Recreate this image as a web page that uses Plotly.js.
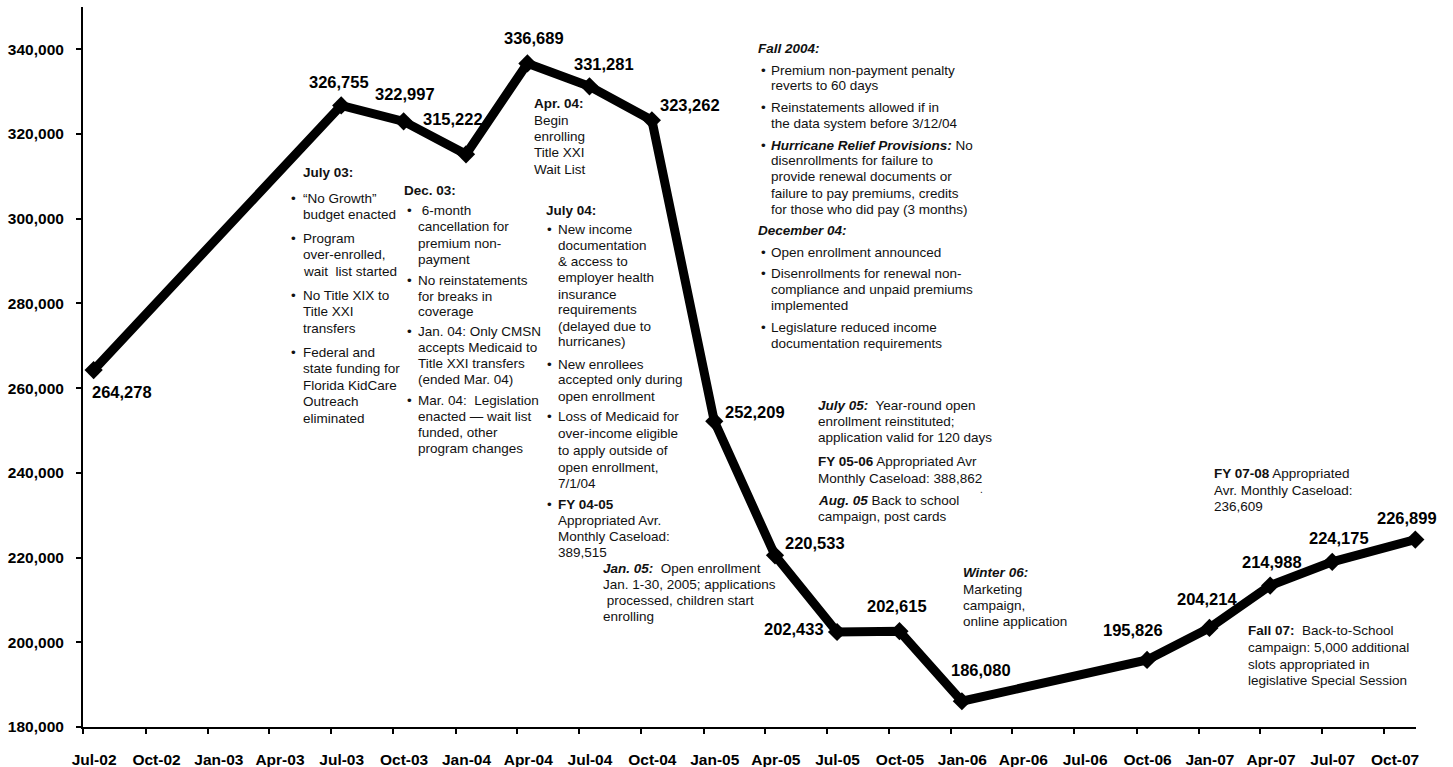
<!DOCTYPE html>
<html><head><meta charset="utf-8">
<script src="https://cdn.plot.ly/plotly-3.0.1.min.js"></script>
<style>html,body{margin:0;padding:0;background:#fff}</style>
</head><body><div id="chart" style="width:1453px;height:767px"></div>
<script>
// ---- data ----
const months = ['2002-07','2003-07','2003-10','2004-01','2004-04','2004-07','2004-10','2005-01','2005-04','2005-07','2005-10','2006-01','2006-10','2007-01','2007-04','2007-07','2007-11'];
const enrollment = [264278, 326755, 322997, 315222, 336689, 331281, 323262, 252209, 220533, 202433, 202615, 186080, 195826, 203400, 213400, 219000, 224250];
const valueLabels = ['264,278','326,755','322,997','315,222','336,689','331,281','323,262','252,209','220,533','202,433','202,615','186,080','195,826','204,214','214,988','224,175','226,899'];
const quarterTicks = ['2002-07-01','2002-10-01','2003-01-01','2003-04-01','2003-07-01','2003-10-01','2004-01-01','2004-04-01','2004-07-01','2004-10-01','2005-01-01','2005-04-01','2005-07-01','2005-10-01','2006-01-01','2006-04-01','2006-07-01','2006-10-01','2007-01-01','2007-04-01','2007-07-01','2007-10-01'];
const quarterLabels = ['Jul-02','Oct-02','Jan-03','Apr-03','Jul-03','Oct-03','Jan-04','Apr-04','Jul-04','Oct-04','Jan-05','Apr-05','Jul-05','Oct-05','Jan-06','Apr-06','Jul-06','Oct-06','Jan-07','Apr-07','Jul-07','Oct-07'];
const yTicks = [180000, 200000, 220000, 240000, 260000, 280000, 300000, 320000, 340000];

// ---- layout helpers ----
const FONT = 'Liberation Sans, Arial, sans-serif';
const W = 1453, H = 767, ML = 83, MR = 37, MT = 7, MB = 40;
const PW = W - ML - MR, PH = H - MT - MB;
function P(x, y) { return { x: (x - ML) / PW, y: (H - MB - y) / PH }; }
function midMonth(s) {
  const [y, m] = s.split('-').map(Number);
  const a = Date.UTC(y, m - 1, 1), b = Date.UTC(y, m, 1);
  return new Date((a + b) / 2).toISOString().replace('T', ' ').slice(0, 19);
}

// label offsets (pixels) relative to each point: [xshift, yshift]
const labelOffsets = [[28,-22],[-2,23],[1,27],[-13,35],[7,25],[15,22],[38,15],[41,9],[40,12],[-43,3],[-2,25],[19,31],[-14,30],[-2,29],[2,24],[7,24],[-8,22]];

// text notes: lines [y, text, kind]  kind 1 = bullet line, 2 = heading
const noteBlocks = [
  {x:302, bx:289.5, hx:302, lines:[
    [173,'<b>July 03:</b>',2],
    [198.5,'“No Growth”',1],[214.8,'budget enacted'],
    [238.5,'Program',1],[254.8,'over-enrolled,'],[271.2,'wait\u00a0 list started'],
    [295,'No Title XIX to',1],[311.5,'Title XXI'],[328,'transfers'],
    [352,'Federal and',1],[368.3,'state funding for'],[385,'Florida KidCare'],[401.5,'Outreach'],[418,'eliminated']]},
  {x:416.7, bx:405.5, hx:403.3, lines:[
    [190,'<b>Dec. 03:</b>',2],
    [210,'\u00a06-month',1],[226.7,'cancellation for'],[243.3,'premium non-'],[259.3,'payment'],
    [280,'No reinstatements',1],[296,'for breaks in'],[311.7,'coverage'],
    [331.7,'Jan. 04: Only CMSN',1],[347.3,'accepts Medicaid to'],[363.3,'Title XXI transfers'],[380,'(ended Mar. 04)'],
    [400,'Mar. 04:\u00a0 Legislation',1],[416,'enacted — wait list'],[432.7,'funded, other'],[448.3,'program changes']]},
  {x:532.7, bx:0, hx:532.7, lines:[
    [103.3,'<b>Apr. 04:</b>',2],[120,'Begin'],[136.7,'enrolling'],[152.7,'Title XXI'],[169.3,'Wait List']]},
  {x:556.7, bx:545.5, hx:545, lines:[
    [210,'<b>July 04:</b>',2],
    [229.3,'New income',1],[245.7,'documentation'],[261.7,'& access to'],[277.7,'employer health'],[294,'insurance'],[310,'requirements'],[326,'(delayed due to'],[341.7,'hurricanes)'],
    [364,'New enrollees',1],[380,'accepted only during'],[396,'open enrollment'],
    [416.7,'Loss of Medicaid for',1],[433.3,'over-income eligible'],[450.7,'to apply outside of'],[467.3,'open enrollment,'],[483.3,'7/1/04'],
    [504,'<b>FY 04-05</b>',1],[520,'Appropriated Avr.'],[536,'Monthly Caseload:'],[552.7,'389,515']]},
  {x:601.7, bx:0, hx:601.7, lines:[
    [568.3,'<b><i>Jan. 05:</i></b>\u00a0 Open enrollment'],[584.3,'Jan. 1-30, 2005; applications'],[600.7,'\u00a0processed, children start'],[616.7,'enrolling']]},
  {x:770, bx:759.5, hx:757.3, lines:[
    [48.3,'<b><i>Fall 2004:</i></b>',2],
    [70,'Premium non-payment penalty',1],[85.3,'reverts to 60 days'],
    [107.3,'Reinstatements allowed if in',1],[123.3,'the data system before 3/12/04'],
    [145,'<b><i>Hurricane Relief Provisions:</i></b> No',1],[160.7,'disenrollments for failure to'],[176.7,'provide renewal documents or'],[193.3,'failure to pay premiums, credits'],[209.3,'for those who did pay (3 months)'],
    [230,'<b><i>December 04:</i></b>',2],
    [252.3,'Open enrollment announced',1],
    [273.3,'Disenrollments for renewal non-',1],[289.3,'compliance and unpaid premiums'],[305.3,'implemented'],
    [327,'Legislature reduced income',1],[343,'documentation requirements']]},
  {x:817.3, bx:0, hx:817.3, lines:[
    [405,'<b><i>July 05:</i></b>\u00a0 Year-round open'],[421.7,'enrollment reinstituted;'],[437.3,'application valid for 120 days'],
    [461.7,'<b>FY 05-06</b> Appropriated Avr'],[478.3,'Monthly Caseload: 388,862'],
    [500,'<b><i>Aug. 05</i></b> Back to school'],[516,'campaign, post cards']]},
  {x:961.7, bx:0, hx:961.7, lines:[
    [572.7,'<b><i>Winter 06:</i></b>'],[589,'Marketing'],[605,'campaign,'],[621,'online application']]},
  {x:1213.3, bx:0, hx:1213.3, lines:[
    [473.3,'<b>FY 07-08</b> Appropriated'],[490,'Avr. Monthly Caseload:'],[506.7,'236,609']]},
  {x:1246.7, bx:0, hx:1246.7, lines:[
    [630.7,'<b>Fall 07:</b>\u00a0 Back-to-School'],[647.3,'campaign: 5,000 additional'],[664,'slots appropriated in'],[680.7,'legislative Special Session']]}
];

const annotations = [];
const noteFont = {family: FONT, size: 13.5, color: '#111'};
noteBlocks.forEach(b => {
  b.lines.forEach(([y, t, kind]) => {
    const xx = kind === 2 ? b.hx : b.x;
    const p = P(xx, y);
    annotations.push({xref:'paper', yref:'paper', x:p.x, y:p.y, text:t, showarrow:false, xanchor:'left', yanchor:'middle', align:'left', font:noteFont, borderpad:0});
    if (kind === 1) {
      const q = P(b.bx, y);
      annotations.push({xref:'paper', yref:'paper', x:q.x, y:q.y, text:'•', showarrow:false, xanchor:'left', yanchor:'middle', font:noteFont, borderpad:0});
    }
  });
});
{ const p = P(979, 489); annotations.push({xref:'paper', yref:'paper', x:p.x, y:p.y, text:'.', showarrow:false, xanchor:'left', yanchor:'middle', font:{family:FONT, size:10, color:'#111'}, borderpad:0}); }

// data labels anchored to the points
months.forEach((m, i) => {
  annotations.push({xref:'x', yref:'y', x: midMonth(m), y: enrollment[i], text: '<b>' + valueLabels[i] + '</b>', showarrow:false,
    xanchor:'center', yanchor:'middle', xshift: labelOffsets[i][0], yshift: labelOffsets[i][1],
    font:{family:FONT, size:16.5, color:'#000'}});
});

const trace = {
  type:'scatter', mode:'lines+markers', x: months, y: enrollment,
  xperiod:'M1', xperiodalignment:'middle',
  line:{color:'#000', width:9},
  marker:{symbol:'diamond', size:14, color:'#000'},
  cliponaxis:false, hoverinfo:'skip', showlegend:false
};

const layout = {
  width:W, height:H, margin:{l:ML, r:MR, t:MT, b:MB},
  paper_bgcolor:'#fff', plot_bgcolor:'#fff', showlegend:false,
  xaxis:{type:'date', range:['2002-06-30 20:00','2007-11-17'], tickvals: quarterTicks, ticktext: quarterLabels,
    ticks:'outside', ticklen:5, tickwidth:2, tickcolor:'#000', showline:true, linewidth:2, linecolor:'#000',
    showgrid:false, zeroline:false, ticklabelshift:11, ticklabelstandoff:12,
    tickfont:{family:FONT, size:15.5, color:'#000', weight:700}},
  yaxis:{range:[180000, 350000], tickvals: yTicks, tickformat:',d',
    ticks:'outside', ticklen:5, tickwidth:2, tickcolor:'#000', showline:true, linewidth:2, linecolor:'#000',
    showgrid:false, zeroline:false, ticklabelstandoff:9,
    tickfont:{family:FONT, size:15.5, color:'#000', weight:700}},
  annotations: annotations
};

Plotly.newPlot('chart', [trace], layout, {displayModeBar:false, staticPlot:true});
</script></body></html>
